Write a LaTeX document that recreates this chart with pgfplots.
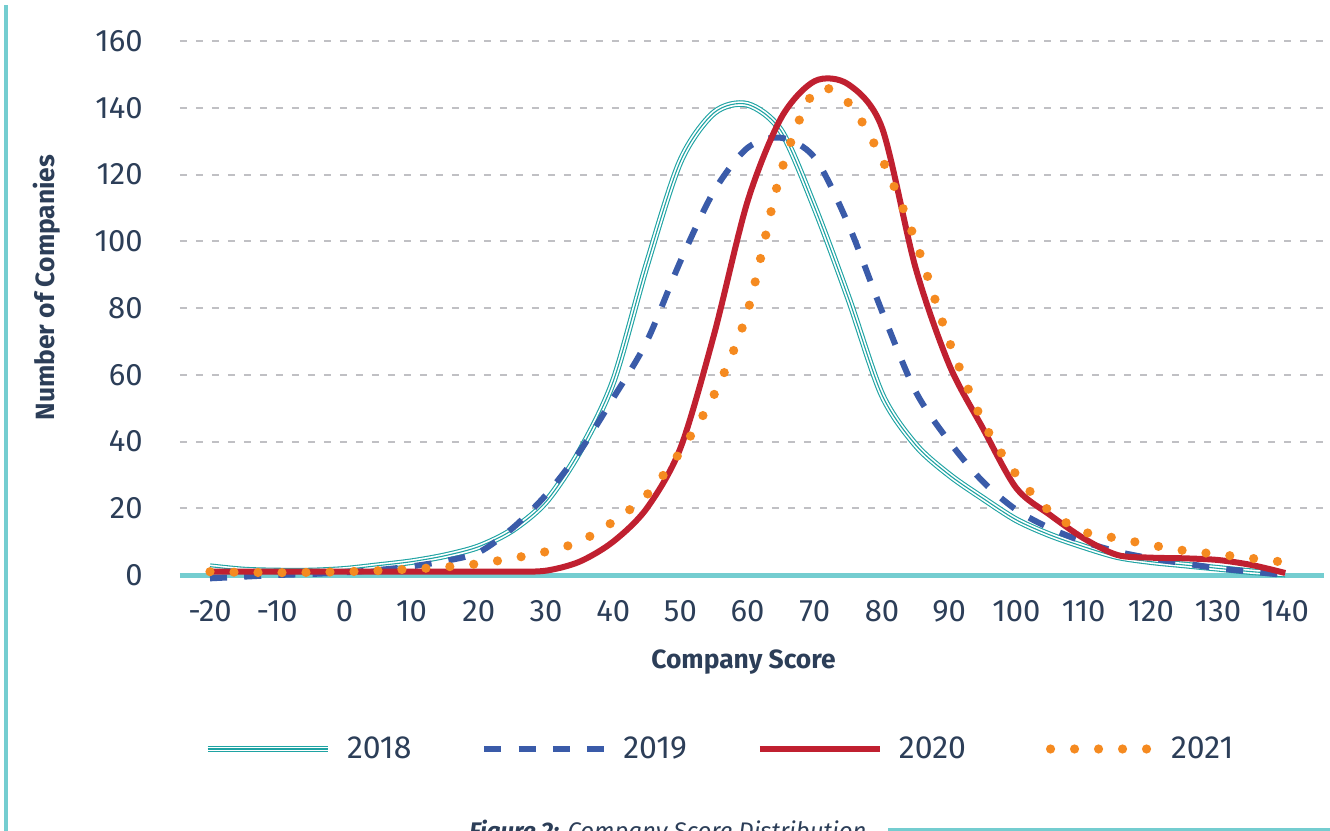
\documentclass[border=0pt]{standalone}
\usepackage{fontspec}
\setmainfont{Fira Sans}
\usepackage{pgfplots}
\pgfplotsset{compat=1.18}

\definecolor{navy}{RGB}{44,62,88}
\definecolor{band}{RGB}{116,205,208}
\definecolor{c18}{RGB}{31,163,163}
\definecolor{c19}{RGB}{58,91,169}
\definecolor{c20}{RGB}{192,32,48}
\definecolor{c21}{RGB}{245,138,32}
\definecolor{gridgray}{RGB}{192,192,196}

\begin{document}
\begin{tikzpicture}
  % 1 px of the reference = 0.5pt, origin at the top left corner
  \useasboundingbox (0pt,0pt) rectangle (665pt,-415.5pt);
  \begin{axis}[
      at={(90pt,-287.5pt)}, anchor=south west, scale only axis,
      width=572pt, height=267pt,
      xmin=-24.464, xmax=145.77, ymin=0, ymax=160,
      xtick={-20,-10,...,140}, ytick={0,20,...,160},
      axis line style={draw=none}, major tick length=0pt,
      ymajorgrids, grid style={gridgray, line width=1pt, dash pattern=on 3.6pt off 4.4pt},
      clip=false,
      /pgf/number format/assume math mode=true,
      tick label style={font=\fontsize{15.5}{18}\selectfont, text=navy},
      xticklabel style={inner sep=0pt, anchor=north, yshift=-12.5pt},
      yticklabel style={inner sep=0pt, anchor=east, xshift=-18.5pt},
      xlabel={Company Score}, ylabel={Number of Companies},
      every axis x label/.style={at={(axis description cs:0.4926,-0.163)}, anchor=center,
        font=\fontsize{13.2}{16}\selectfont\bfseries, text=navy},
      every axis y label/.style={at={(axis description cs:-0.1164,0.5384)}, anchor=center, rotate=90,
        font=\fontsize{13.2}{16}\selectfont\bfseries, text=navy},
      legend columns=4,
      legend style={draw=none, fill=none, inner sep=0pt,
        at={(axis description cs:0.021,-0.3258)}, anchor=west,
        font=\fontsize{16}{19}\selectfont, text=navy,
        /tikz/every odd column/.append style={column sep=6pt},
        /tikz/every even column/.append style={column sep=33pt}},
      legend image code/.code={\draw[#1] (0pt,0pt) -- (60pt,0pt);},
    ]

    % horizontal axis line
    \addplot[band, line width=2.5pt, forget plot] coordinates {(-24.464,0) (145.77,0)};

    % 2018
    \addplot[no marks, smooth, c18, line width=3.3pt,
      postaction={draw=white, line width=2.2pt},
      postaction={draw=c18, line width=0.55pt}] coordinates {
      (-20,2.5) (-15,1.5) (-10,1.2) (-5,1.2) (0,1.7) (5,2.8) (10,4) (15,5.8)
      (20,8.5) (25,13.5) (30,22) (35,37) (40,58) (45,93) (50,124) (55,138.5)
      (60,141) (65,133) (70,110) (75,83) (80,54) (85,39) (90,30) (95,23)
      (100,16.5) (105,12) (110,8.5) (115,5.5) (120,4) (125,3) (130,2)
      (135,1) (140,0.3)};
    \addlegendentry{2018}

    % 2019
    \addplot[no marks, smooth, c19, line width=3pt, dash pattern=on 8.5pt off 8.6pt] coordinates {
      (-20,-1) (-15,-0.5) (-10,0) (-5,0.3) (0,0.8) (5,1.5) (10,2.6) (15,4.2)
      (20,6.8) (25,14) (30,24) (35,37) (40,53) (45,70) (50,94) (55,115)
      (60,128) (65,131) (70,125) (75,105) (80,79) (85,55) (90,40) (95,28)
      (100,19.5) (105,14) (110,10) (115,7) (120,5) (125,3.5) (130,2)
      (135,1) (140,0)};
    \addlegendentry{2019}

    % 2020
    \addplot[no marks, smooth, c20, line width=3pt] coordinates {
      (-20,1) (-10,1) (0,1) (10,1) (20,1) (25,1) (30,1.3) (35,4) (40,10)
      (45,20) (50,38) (55,72) (60,112) (65,137) (70,148) (75,147) (80,134)
      (85,92) (90,63) (95,44) (100,26) (105,18) (110,11) (115,6) (120,5.2)
      (125,5) (130,4.5) (135,3) (140,0.6)};
    \addlegendentry{2020\hspace*{5pt}}

    % 2021
    \addplot[no marks, smooth, c21, line width=4.6pt, line cap=round, dash pattern=on 0pt off 12pt,
      legend image code/.code={\foreach \i in {0,...,4}
        \path[fill=c21, draw=none] (\i*12pt,0pt) circle (2.3pt);}] coordinates {
      (-20,1) (-15,0.8) (-10,0.7) (-5,0.8) (0,1) (5,1.3) (10,1.8) (15,2.4)
      (20,3.4) (25,5) (30,7) (35,10) (40,16) (45,24) (50,37) (55,54)
      (60,79) (65,121) (70,145) (75,141.5) (80,124.6) (85,100) (90,70)
      (95,46) (100,30) (105,19) (110,13) (115,11) (120,9) (125,7.3)
      (130,6.2) (135,5) (140,3.8)};
    \addlegendentry{\hspace*{2pt}2021}
  \end{axis}

  % page decorations
  \fill[band] (2pt,-2.5pt) rectangle (4pt,-420pt);
  \draw[band, line width=1.5pt] (444pt,-414.8pt) -- (670pt,-414.8pt);
  \node[anchor=base west, inner sep=0pt, text=navy, font=\fontsize{12}{14}\selectfont]
    at (234.5pt,-419.75pt) {\textbf{\textit{Figure 2:}} \textit{Company Score Distribution}};
\end{tikzpicture}
\end{document}
